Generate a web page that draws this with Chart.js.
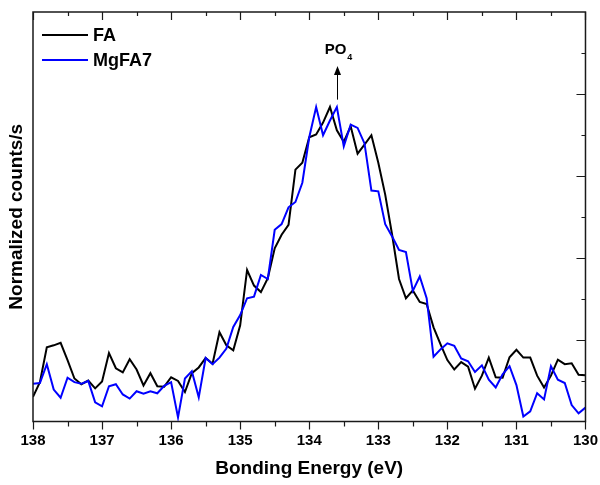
<!DOCTYPE html>
<html>
<head>
<meta charset="utf-8">
<script src="https://cdn.jsdelivr.net/npm/chart.js@4.4.0/dist/chart.umd.min.js"></script>
<style>
    html, body { margin: 0; padding: 0; background: #fff; }
    #wrap { width: 600px; height: 485px; }
</style>
</head>
<body>
<div id="wrap"><canvas id="xpsChart" width="600" height="485"></canvas></div>
<script>
// binding energy grid (eV), high to low
const energies = [
    138.0, 137.9, 137.8, 137.7, 137.6, 137.5, 137.4, 137.3, 137.2, 137.1,
    137.0, 136.9, 136.8, 136.7, 136.6, 136.5, 136.4, 136.3, 136.2, 136.1,
    136.0, 135.9, 135.8, 135.7, 135.6, 135.5, 135.4, 135.3, 135.2, 135.1,
    135.0, 134.9, 134.8, 134.7, 134.6, 134.5, 134.4, 134.3, 134.2, 134.1,
    134.0, 133.9, 133.8, 133.7, 133.6, 133.5, 133.4, 133.3, 133.2, 133.1,
    133.0, 132.9, 132.8, 132.7, 132.6, 132.5, 132.4, 132.3, 132.2, 132.1,
    132.0, 131.9, 131.8, 131.7, 131.6, 131.5, 131.4, 131.3, 131.2, 131.1,
    131.0, 130.9, 130.8, 130.7, 130.6, 130.5, 130.4, 130.3, 130.2, 130.1,
    130.0
];

const faCounts = [
    0.060, 0.096, 0.181, 0.186, 0.192, 0.150, 0.105, 0.091, 0.100, 0.081,
    0.098, 0.167, 0.130, 0.120, 0.152, 0.127, 0.088, 0.118, 0.086, 0.085,
    0.108, 0.099, 0.072, 0.118, 0.132, 0.155, 0.141, 0.218, 0.186, 0.174,
    0.235, 0.370, 0.332, 0.316, 0.350, 0.423, 0.456, 0.480, 0.615, 0.632,
    0.694, 0.701, 0.730, 0.768, 0.711, 0.683, 0.721, 0.654, 0.676, 0.699,
    0.632, 0.554, 0.456, 0.348, 0.301, 0.320, 0.292, 0.287, 0.230, 0.189,
    0.150, 0.127, 0.145, 0.134, 0.080, 0.112, 0.156, 0.108, 0.107, 0.157,
    0.175, 0.156, 0.156, 0.112, 0.083, 0.112, 0.151, 0.140, 0.142, 0.114,
    0.113
];

const mgfa7Counts = [
    0.092, 0.094, 0.140, 0.078, 0.058, 0.107, 0.096, 0.092, 0.099, 0.047,
    0.037, 0.086, 0.091, 0.066, 0.056, 0.074, 0.068, 0.074, 0.069, 0.087,
    0.096, 0.010, 0.105, 0.123, 0.059, 0.155, 0.140, 0.156, 0.178, 0.231,
    0.260, 0.301, 0.305, 0.358, 0.348, 0.468, 0.482, 0.523, 0.536, 0.583,
    0.694, 0.768, 0.699, 0.735, 0.768, 0.672, 0.725, 0.717, 0.679, 0.564,
    0.562, 0.482, 0.452, 0.419, 0.414, 0.319, 0.354, 0.301, 0.158, 0.176,
    0.191, 0.185, 0.154, 0.147, 0.121, 0.137, 0.102, 0.083, 0.115, 0.135,
    0.089, 0.012, 0.025, 0.069, 0.054, 0.135, 0.102, 0.094, 0.040, 0.020,
    0.034
];

const seriesNames = ['FA', 'MgFA7'];
const seriesColors = ['#000000', '#0000ff'];
const xTickLabels = [138, 137, 136, 135, 134, 133, 132, 131, 130];
const peakLabel = { main: 'PO', sub: '4', energy: 133.6 };

const FONT = "'Liberation Sans', Arial, Helvetica, sans-serif";
Chart.defaults.font.family = FONT;
Chart.defaults.color = '#000';

function toPoints(values) {
    return values.map((v, i) => ({ x: energies[i], y: v }));
}

// frame, ticks on all four sides (Origin style)
const framePlugin = {
    id: 'frame',
    afterDraw(chart) {
        const { ctx, chartArea: a, scales: { x, y } } = chart;
        ctx.save();
        ctx.strokeStyle = '#1a1a1a';
        ctx.lineWidth = 1.5;
        ctx.strokeRect(a.left, a.top, a.right - a.left, a.bottom - a.top);

        ctx.lineWidth = 1.2;
        ctx.beginPath();
        for (let e = 130; e <= 138.001; e += 0.5) {
            const px = Math.round(x.getPixelForValue(e)) + 0.5;
            const major = Math.abs(e - Math.round(e)) < 0.01;
            // bottom: outward
            ctx.moveTo(px, a.bottom);
            ctx.lineTo(px, a.bottom + (major ? 8 : 5));
            // top: inward
            ctx.moveTo(px, a.top);
            ctx.lineTo(px, a.top + (major ? 8 : 4));
        }
        for (let k = 1; k < 10; k++) {
            const py = Math.round(y.getPixelForValue(k / 10)) + 0.5;
            const major = k % 2 === 0;
            ctx.moveTo(a.right, py);
            ctx.lineTo(a.right - (major ? 9 : 4), py);
        }
        ctx.stroke();
        ctx.restore();
    }
};

// legend in the upper left corner + PO4 marker with arrow
const notesPlugin = {
    id: 'notes',
    afterDatasetsDraw(chart) {
        const { ctx, chartArea: a, scales: { x, y } } = chart;
        ctx.save();

        seriesNames.forEach((name, i) => {
            const ly = a.top + 23 + i * 25;
            ctx.strokeStyle = seriesColors[i];
            ctx.lineWidth = 2;
            ctx.beginPath();
            ctx.moveTo(a.left + 9, ly);
            ctx.lineTo(a.left + 55, ly);
            ctx.stroke();
            ctx.fillStyle = '#000';
            ctx.font = 'bold 18px ' + FONT;
            ctx.textBaseline = 'middle';
            ctx.textAlign = 'left';
            ctx.fillText(name, a.left + 60, ly + 1);
        });

        const ax = Math.round(x.getPixelForValue(peakLabel.energy)) + 0.5;
        const yBottom = y.getPixelForValue(0.786);
        const yTip = y.getPixelForValue(0.868);
        ctx.strokeStyle = '#000';
        ctx.fillStyle = '#000';
        ctx.lineWidth = 1;
        ctx.beginPath();
        ctx.moveTo(ax, yBottom);
        ctx.lineTo(ax, yTip + 6);
        ctx.stroke();
        ctx.beginPath();
        ctx.moveTo(ax, yTip);
        ctx.lineTo(ax - 3.5, yTip + 9);
        ctx.lineTo(ax + 3.5, yTip + 9);
        ctx.closePath();
        ctx.fill();

        const ty = y.getPixelForValue(0.907);
        ctx.font = 'bold 15px ' + FONT;
        ctx.textAlign = 'left';
        ctx.textBaseline = 'middle';
        const w = ctx.measureText(peakLabel.main).width;
        ctx.fillText(peakLabel.main, ax - w / 2 - 2, ty);
        ctx.font = 'bold 9px ' + FONT;
        ctx.fillText(peakLabel.sub, ax + w / 2 - 1, ty + 7);

        ctx.restore();
    }
};

const ctx = document.getElementById('xpsChart');

new Chart(ctx, {
    type: 'line',
    data: {
        datasets: [
            {
                label: seriesNames[0],
                data: toPoints(faCounts),
                borderColor: seriesColors[0],
                borderWidth: 2,
                pointRadius: 0,
                tension: 0,
                order: 1
            },
            {
                label: seriesNames[1],
                data: toPoints(mgfa7Counts),
                borderColor: seriesColors[1],
                borderWidth: 2,
                pointRadius: 0,
                tension: 0,
                order: 0
            }
        ]
    },
    options: {
        responsive: false,
        animation: false,
        events: [],
        layout: { padding: { top: 12, right: 14, left: 0, bottom: 0 } },
        plugins: {
            legend: { display: false },
            tooltip: { enabled: false }
        },
        scales: {
            x: {
                type: 'linear',
                reverse: true,
                min: 130,
                max: 138,
                afterBuildTicks: (scale) => {
                    scale.ticks = xTickLabels.map(v => ({ value: v }));
                },
                afterFit: (scale) => { scale.height = 63.5; },
                ticks: {
                    font: { size: 15, weight: 'bold' },
                    color: '#000',
                    padding: 2,
                    maxRotation: 0,
                    callback: (v) => String(v)
                },
                grid: { display: false, drawTicks: true, tickLength: 8 },
                border: { display: false },
                title: {
                    display: true,
                    text: 'Bonding Energy (eV)',
                    font: { size: 19, weight: 'bold' },
                    color: '#000',
                    padding: { top: 0, bottom: 5 }
                }
            },
            y: {
                min: 0,
                max: 1,
                afterFit: (scale) => { scale.width = 33; },
                ticks: { display: false },
                grid: { display: false, drawTicks: false },
                border: { display: false },
                title: {
                    display: true,
                    text: 'Normalized counts/s',
                    font: { size: 19, weight: 'bold' },
                    color: '#000',
                    padding: { top: 5, bottom: 0 }
                }
            }
        }
    },
    plugins: [framePlugin, notesPlugin]
});
</script>
</body>
</html>
